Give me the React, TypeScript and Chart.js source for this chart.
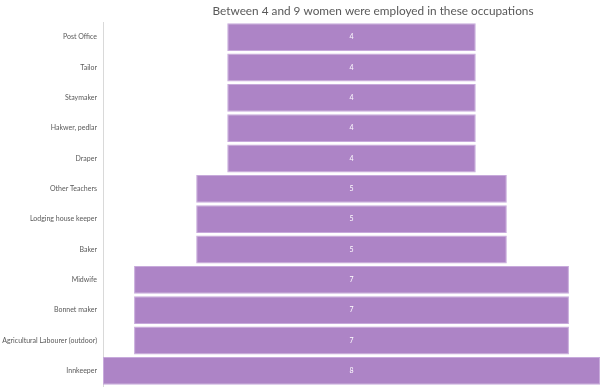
import React, { useEffect, useRef } from "react";
import { Chart, registerables } from "chart.js";

Chart.register(...registerables);

const categories = [
  "Post Office",
  "Tailor",
  "Staymaker",
  "Hakwer, pedlar",
  "Draper",
  "Other Teachers",
  "Lodging house keeper",
  "Baker",
  "Midwife",
  "Bonnet maker",
  "Agricultural Labourer (outdoor)",
  "Innkeeper",
];
const counts = [4, 4, 4, 4, 4, 5, 5, 5, 7, 7, 7, 8];
const titleText = "Between 4 and 9 women were employed in these occupations";

const labelPlugin = {
  id: "centerLabels",
  afterDatasetsDraw(chart: any) {
    const ctx = chart.ctx;
    const meta = chart.getDatasetMeta(0);
    ctx.save();
    ctx.fillStyle = "#ffffff";
    ctx.font = "7px Lato, sans-serif";
    ctx.textAlign = "center";
    ctx.textBaseline = "middle";
    meta.data.forEach((el: any, i: number) => {
      const p = el.getProps(["x", "base", "y"], true);
      ctx.fillText(String(counts[i]), (p.x + p.base) / 2, p.y);
    });
    ctx.restore();
  },
};

const titlePlugin = {
  id: "customTitle",
  afterDraw(chart: any) {
    const ctx = chart.ctx;
    ctx.save();
    ctx.fillStyle = "#595959";
    ctx.font = "11.8px Lato, sans-serif";
    ctx.textAlign = "center";
    ctx.textBaseline = "middle";
    ctx.fillText(titleText, 373, 11);
    ctx.restore();
  },
};

export default function App() {
  const ref = useRef<HTMLCanvasElement>(null);
  useEffect(() => {
    if (!ref.current) return;
    const chart = new Chart(ref.current, {
      type: "bar",
      data: {
        labels: categories,
        datasets: [
          {
            data: counts.map((v) => [-v / 2, v / 2]) as any,
            backgroundColor: "#ad84c6",
            borderColor: "#c7aadb",
            borderWidth: 1,
            borderSkipped: false,
            categoryPercentage: 1,
            barPercentage: 0.92,
          },
        ],
      },
      options: {
        indexAxis: "y",
        animation: false,
        responsive: false,
        maintainAspectRatio: false,
        layout: { padding: { top: 22, bottom: 4, right: 2, left: 0 } },
        plugins: {
          legend: { display: false },
          tooltip: { enabled: false },
          title: { display: false },
        },
        scales: {
          x: {
            min: -4,
            max: 4,
            display: false,
          },
          y: {
            grid: { display: false, drawTicks: false },
            border: { display: true, color: "#d9d9d9", width: 1 },
            ticks: {
              color: "#595959",
              font: { family: "Lato, sans-serif", size: 7 },
              padding: 6,
            },
            afterFit(scale: any) {
              scale.width = 103;
              scale.paddingTop = 0;
              scale.paddingBottom = 0;
            },
          },
        },
      },
      plugins: [labelPlugin, titlePlugin],
    });
    return () => chart.destroy();
  }, []);
  return (
    <div style={{ position: "fixed", left: 0, top: 0, width: 602, height: 390, background: "#fff" }}>
      <canvas ref={ref} width={602} height={390} style={{ width: 602, height: 390 }} />
    </div>
  );
}
